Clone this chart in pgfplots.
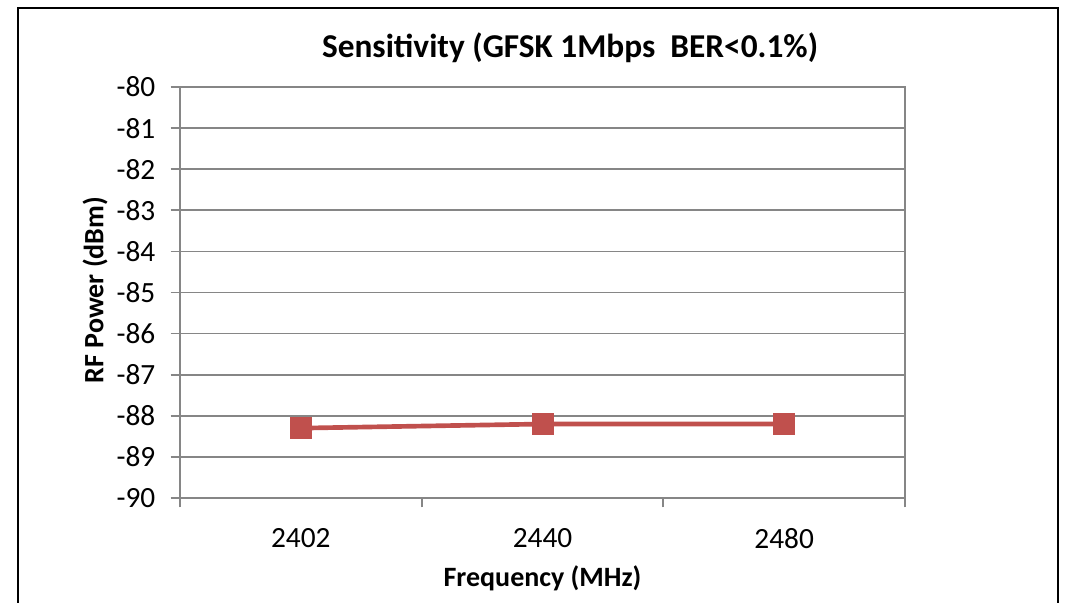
\documentclass[border=0pt]{standalone}
\usepackage{pgfplots}
\pgfplotsset{compat=1.18}
\usepackage{fontspec}
\setmainfont{Carlito}
\definecolor{axgray}{HTML}{868686}
\definecolor{serred}{HTML}{C0504D}
\begin{document}
\begin{tikzpicture}
\useasboundingbox (-135pt,-78.75pt) rectangle (670.5pt,373.5pt);
\draw[line width=1.6pt] (-121.5pt,-100pt) -- (-121.5pt,367.5pt) -- (658.5pt,367.5pt) -- (658.5pt,-100pt);
\begin{axis}[
    at={(0,0)}, anchor=south west,
    scale only axis,
    width=543.75pt, height=308.25pt,
    xmin=-0.5, xmax=2.5,
    ymin=-90, ymax=-80,
    ytick={-90,-89,...,-80},
    yticklabels={-90,-89,-88,-87,-86,-85,-84,-83,-82,-81,-80},
    xtick={-0.5,0.5,1.5,2.5},
    x tick label as interval,
    xticklabels={2402,2440,2480},
    xtick pos=bottom, ytick pos=left,
    ymajorgrids,
    grid style={axgray, line width=1.3pt},
    axis line style={axgray, line width=1.3pt},
    major tick style={axgray, line width=1.3pt},
    tick align=outside,
    major tick length=7pt,
    tick label style={font=\fontsize{22}{26}\selectfont},
    yticklabel style={xshift=-8pt},
    xticklabel style={yshift=-12pt},
    title={\bfseries Sensitivity (GFSK 1Mbps\ \ BER<0.1\%)},
    title style={at={(axis description cs:0.538,1.077)}, anchor=center, font=\fontsize{25}{30}\selectfont},
    xlabel={\bfseries Frequency (MHz)},
    xlabel style={at={(axis description cs:0.5,-0.195)}, anchor=center, font=\fontsize{21}{25}\selectfont},
    ylabel={\bfseries RF Power (dBm)},
    ylabel style={at={(axis description cs:-0.117,0.506)}, anchor=center, rotate=0, font=\fontsize{21}{25}\selectfont},
]
\addplot[serred, line width=3.5pt, mark=square*, mark size=7.8pt, mark options={fill=serred, draw=serred, line width=0.5pt}]
coordinates {(0,-88.3) (1,-88.2) (2,-88.2)};
\end{axis}
\end{tikzpicture}
\end{document}
